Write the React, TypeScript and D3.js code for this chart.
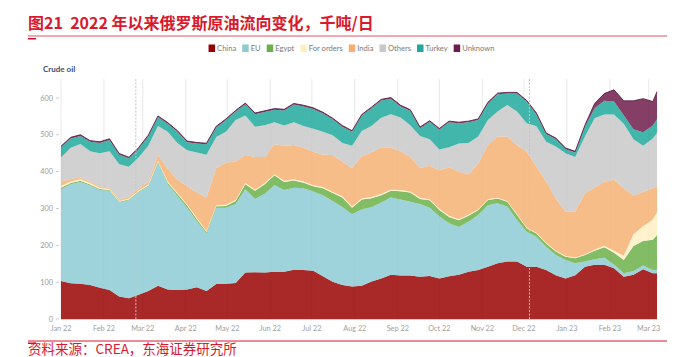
import React, { useEffect, useRef } from 'react';
import * as d3 from 'd3';

// days since 2022-01-01
const days = [0,7,14,21,28,35,42,49,56,63,70,77,84,91,98,105,112,119,126,133,140,147,154,161,168,175,182,189,196,203,210,217,224,231,238,245,252,259,266,273,280,287,294,301,308,315,322,329,336,343,350,357,364,371,378,385,392,399,406,413,420,427,430];

const china = [103,97,96,92,85,79,61,56,66,76,90,80,79,80,86,76,95,96,98,126,127,126,128,128,134,133,131,116,101,92,88,90,102,110,120,118,118,115,117,110,116,120,128,133,142,151,156,156,142,142,133,119,110,119,142,147,147,138,115,120,135,124,124];
const eu = [249,269,276,270,265,269,255,266,278,284,335,286,255,222,179,156,207,206,214,226,199,214,236,222,222,222,215,220,219,212,196,208,201,206,210,206,200,197,185,168,144,130,136,149,167,163,149,113,95,81,63,55,50,32,14,15,19,10,9,10,10,9,9];
const egypt = [4,3,3,3,3,2,2,2,2,2,2,4,5,6,6,4,4,5,8,14,22,26,26,22,20,15,14,19,22,26,18,26,25,20,18,23,25,14,20,18,17,18,16,14,14,13,13,13,9,9,9,9,9,14,18,23,29,32,36,68,67,82,95];
const forOrders = [5,4,4,4,3,3,2,3,3,3,2,3,3,3,3,3,3,3,3,3,3,3,3,3,3,3,3,3,3,3,3,3,3,3,3,3,3,3,3,3,3,3,3,2,2,2,2,2,2,2,2,2,2,2,2,3,4,5,12,32,40,55,62];
const india = [12,7,5,4,4,3,4,5,5,7,16,35,36,49,69,91,101,114,105,76,89,71,81,95,93,92,91,88,100,94,105,115,121,127,114,105,94,81,91,105,132,129,109,124,147,166,175,188,206,180,166,142,120,124,165,169,173,193,183,105,93,85,70];
const others = [65,85,91,82,90,99,96,81,84,98,79,100,100,98,109,116,84,84,112,107,82,86,60,55,62,59,62,62,54,51,60,68,72,80,91,92,86,87,72,56,54,76,86,73,68,68,86,91,77,109,108,141,159,149,154,188,183,177,175,153,125,135,145];
const turkey = [28,25,22,26,28,31,26,23,24,26,24,22,30,22,24,28,26,32,23,31,34,36,34,41,48,53,54,50,43,44,38,42,48,47,42,30,39,21,47,54,68,55,56,45,45,47,31,49,59,33,21,20,11,12,27,27,37,35,23,27,37,35,37];
const unknown = [3,3,3,3,3,3,3,3,3,3,3,3,3,3,3,3,3,3,3,3,3,3,3,3,3,3,3,3,3,3,3,3,3,3,3,3,3,3,3,3,3,3,3,3,3,3,3,3,3,3,3,3,3,3,4,13,20,32,39,77,91,65,75];

const seriesNames = ['China','EU','Egypt','For orders','India','Others','Turkey','Unknown'];
const seriesValues = [china, eu, egypt, forOrders, india, others, turkey, unknown];
const seriesColors = ['#990000','#8ccbd4','#6aaf48','#fff0c4','#f5b071','#c8c8c8','#1fa89b','#6e1a4a'];

const yTicks = [0,100,200,300,400,500,600];
const monthLabels = ['Jan 22','Feb 22','Mar 22','Apr 22','May 22','Jun 22','Jul 22','Aug 22','Sep 22','Oct 22','Nov 22','Dec 22','Jan 23','Feb 23','Mar 23'];
const eventDays = [54, 338]; // 2022-02-24, 2022-12-05

const titleText = '图21\u00A0\u00A02022 年以来俄罗斯原油流向变化，千吨/日';
const sourceText = '资料来源：CREA，东海证券研究所';
const axisTitle = 'Crude oil';

const W = 675, H = 357;
const start = new Date(2022, 0, 1);
const dayToDate = (d: number) => d3.timeDay.offset(start, d);

export default function App() {
  const ref = useRef<SVGSVGElement | null>(null);

  useEffect(() => {
    const svg = d3.select(ref.current);
    svg.selectAll('*').remove();
    const font = 'Lato, "Noto Sans", sans-serif';
    const cjk = '"Noto Sans CJK SC", sans-serif';

    const x = d3.scaleTime().domain([dayToDate(0), dayToDate(430)]).range([61, 657]);
    const y = d3.scaleLinear().domain([0, 650]).range([319, 79.5]);

    // title
    svg.append('text').attr('x', 28).attr('y', 29).attr('font-family', cjk).attr('font-size', 16)
      .attr('font-weight', 700).attr('fill', '#d9192d').text(titleText);
    svg.append('line').attr('x1', 28).attr('x2', 667).attr('y1', 36).attr('y2', 36)
      .attr('stroke', '#e2505c').attr('stroke-width', 1);
    svg.append('rect').attr('x', 28).attr('y', 38).attr('width', 8).attr('height', 1.5).attr('fill', '#c8102e');

    // legend
    const lg = svg.append('g');
    let cx = 0;
    seriesNames.forEach((name, i) => {
      lg.append('rect').attr('x', cx).attr('y', 44.5).attr('width', 6.5).attr('height', 7.5).attr('fill', seriesColors[i]);
      const t = lg.append('text').attr('x', cx + 8.5).attr('y', 51).attr('font-family', font)
        .attr('font-size', 7.6).attr('fill', '#7a7a7a').text(name);
      const w = (t.node() as SVGTextElement).getComputedTextLength();
      cx += 8.5 + w + 6;
    });
    const totalW = cx - 6;
    lg.attr('transform', `translate(${351.5 - totalW / 2},0)`);

    // axis title
    svg.append('text').attr('x', 43).attr('y', 71.5).attr('font-family', font).attr('font-size', 8)
      .attr('font-weight', 700).attr('fill', '#3d4b72').text(axisTitle);

    // month gridlines
    const months = d3.timeMonth.range(dayToDate(0), dayToDate(425));
    svg.append('g').selectAll('line').data(months).join('line')
      .attr('x1', d => x(d)).attr('x2', d => x(d)).attr('y1', 79).attr('y2', 319)
      .attr('stroke', '#e8e8e8').attr('stroke-width', 1);

    // stack
    const rows = days.map((d, i) => {
      const r: any = { date: dayToDate(d) };
      seriesNames.forEach((n, k) => { r[n] = seriesValues[k][i]; });
      return r;
    });
    const stacked = d3.stack<any>().keys(seriesNames)(rows);
    const area = d3.area<any>().x(d => x(d.data.date)).y0(d => y(d[0])).y1(d => y(d[1]));
    svg.append('g').selectAll('path').data(stacked).join('path')
      .attr('d', d => area(d as any) as string)
      .attr('fill', (_, i) => seriesColors[i]).attr('fill-opacity', 0.84);

    // top outline
    const top = stacked[stacked.length - 1];
    const line = d3.line<any>().x(d => x(d.data.date)).y(d => y(d[1]));
    svg.append('path').attr('d', line(top as any) as string).attr('fill', 'none')
      .attr('stroke', '#5a1f45').attr('stroke-width', 0.9);

    // baseline
    svg.append('line').attr('x1', 61).attr('x2', 657).attr('y1', 319.5).attr('y2', 319.5)
      .attr('stroke', '#d0d0d0').attr('stroke-width', 1);

    // event lines
    svg.append('g').selectAll('line').data(eventDays).join('line')
      .attr('x1', d => x(dayToDate(d))).attr('x2', d => x(dayToDate(d)))
      .attr('y1', 79).attr('y2', 319)
      .attr('stroke', '#c4c4c4').attr('stroke-width', 1).attr('stroke-dasharray', '2,1.5');

    // y axis
    const ya = svg.append('g');
    yTicks.forEach(v => {
      ya.append('text').attr('x', 53).attr('y', y(v) + 2.6).attr('text-anchor', 'end')
        .attr('font-family', font).attr('font-size', 7.3).attr('fill', '#9a9a9a').text(String(v));
      ya.append('line').attr('x1', 56).attr('x2', 59).attr('y1', y(v)).attr('y2', y(v))
        .attr('stroke', '#cccccc').attr('stroke-width', 1);
    });

    // x axis labels
    svg.append('g').selectAll('text').data(months).join('text')
      .attr('x', d => x(d)).attr('y', 330.5).attr('text-anchor', 'middle')
      .attr('font-family', font).attr('font-size', 7.3).attr('fill', '#a0a0a0')
      .text((_, i) => monthLabels[i]);

    // source
    svg.append('line').attr('x1', 28).attr('x2', 667).attr('y1', 341).attr('y2', 341)
      .attr('stroke', '#d9192d').attr('stroke-width', 1);
    svg.append('rect').attr('x', 28).attr('y', 342.5).attr('width', 8).attr('height', 1.5).attr('fill', '#c8102e');
    svg.append('text').attr('x', 28).attr('y', 353.5).attr('font-family', cjk).attr('font-size', 13.5)
      .attr('fill', '#d9192d').text(sourceText);
  }, []);

  return (
    <svg ref={ref} width={W} height={H}
      style={{ position: 'absolute', left: 0, top: 0, background: '#fff' }} />
  );
}
